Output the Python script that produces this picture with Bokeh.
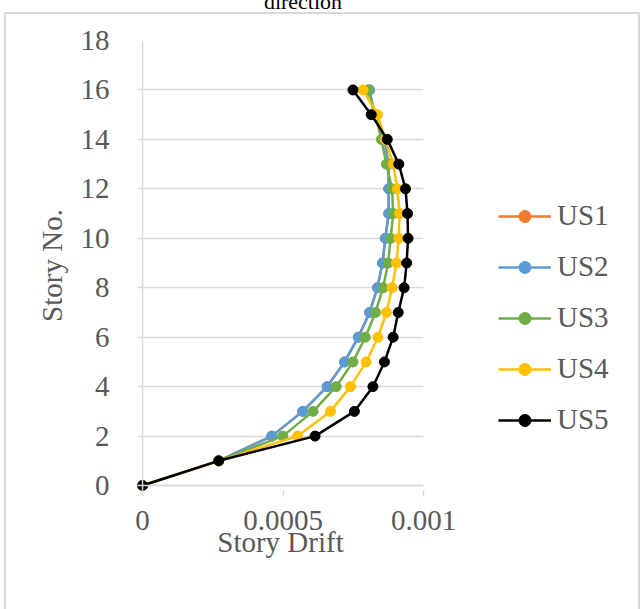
from bokeh.plotting import figure
from bokeh.layouts import column, row
from bokeh.models import (Legend, LegendItem, Div, FixedTicker, Range1d, Span)
from bokeh.embed import file_html
from bokeh.resources import INLINE

# Story levels and inter-story drift for the five cases
stories = list(range(17))
us1 = [0, 0.000271, 0.000460, 0.000570, 0.000657, 0.000719, 0.000768, 0.000808, 0.000836,
       0.000854, 0.000864, 0.000876, 0.000876, 0.000875, 0.000861, 0.000825, 0.000808]
us2 = [0, 0.000271, 0.000460, 0.000570, 0.000657, 0.000719, 0.000768, 0.000808, 0.000836,
       0.000854, 0.000864, 0.000876, 0.000876, 0.000875, 0.000861, 0.000825, 0.000808]
us3 = [0, 0.000271, 0.000499, 0.000607, 0.000689, 0.000749, 0.000793, 0.000829, 0.000856,
       0.000874, 0.000883, 0.000892, 0.000888, 0.000868, 0.000850, 0.000829, 0.000802]
us4 = [0, 0.000271, 0.000552, 0.000669, 0.000740, 0.000796, 0.000838, 0.000868, 0.000888,
       0.000904, 0.000912, 0.000915, 0.000907, 0.000892, 0.000864, 0.000836, 0.000785]
us5 = [0, 0.000271, 0.000614, 0.000754, 0.000820, 0.000861, 0.000892, 0.000910, 0.000931,
       0.000940, 0.000945, 0.000943, 0.000936, 0.000912, 0.000871, 0.000814, 0.000749]

series_names = ["US1", "US2", "US3", "US4", "US5"]
series_values = [us1, us2, us3, us4, us5]
series_colors = ["#ED7D31", "#5B9BD5", "#70AD47", "#FFC000", "#000000"]

x_ticks = [0, 0.0005, 0.001]
x_tick_labels = ["0", "0.0005", "0.001"]
y_ticks = list(range(0, 19, 2))

FONT = "Liberation Serif"
TEXT_COLOR = "#595959"
GRID_COLOR = "#d9d9d9"

# ---- main plot -----------------------------------------------------------
# the ranges reach a little below zero so the markers at the origin are not cut
p = figure(width=459, height=595, output_backend="svg", toolbar_location=None,
           x_range=Range1d(-0.000018, 0.001), y_range=Range1d(-0.2, 18),
           min_border_left=131, min_border_right=42,
           min_border_top=26, min_border_bottom=119)
p.outline_line_color = None
p.background_fill_color = "white"
p.border_fill_color = "white"

p.xaxis.ticker = FixedTicker(ticks=x_ticks)
p.xaxis.major_label_overrides = dict(zip(x_ticks, x_tick_labels))
p.yaxis.ticker = FixedTicker(ticks=y_ticks)

for ax in (p.xaxis[0], p.yaxis[0]):
    ax.axis_line_color = None
    ax.major_label_text_font = FONT
    ax.major_label_text_font_size = "29px"
    ax.major_label_text_color = TEXT_COLOR
    ax.axis_label_text_font = FONT
    ax.axis_label_text_font_size = "29px"
    ax.axis_label_text_font_style = "normal"
    ax.axis_label_text_color = TEXT_COLOR
    ax.minor_tick_line_color = None

p.xaxis.axis_label = "Story Drift"
p.xaxis.major_tick_line_color = GRID_COLOR
p.xaxis.major_tick_line_width = 1.5
p.xaxis.major_tick_in = 0
p.xaxis.major_tick_out = 6
p.xaxis.major_label_standoff = 14
p.xaxis.axis_label_standoff = -7

p.yaxis.axis_label = "Story No."
p.yaxis.major_tick_line_color = None
p.yaxis.major_label_standoff = 22
p.yaxis.axis_label_standoff = 10

p.xgrid.grid_line_color = None
p.ygrid.grid_line_color = GRID_COLOR
p.ygrid.grid_line_width = 1.5

# axis lines through the origin
p.add_layout(Span(location=0, dimension="height", line_color=GRID_COLOR, line_width=1.5))
p.add_layout(Span(location=0, dimension="width", line_color=GRID_COLOR, line_width=1.5))

for vals, color in zip(series_values, series_colors):
    p.line(vals, stories, line_color=color, line_width=2.5)
    p.scatter(vals, stories, marker="circle", size=10, fill_color=color, line_color=color)

# ---- legend panel ----------------------------------------------------------
# same series again, kept out of view; they only provide the legend swatches
lg = figure(width=173, height=595, output_backend="svg", toolbar_location=None,
            x_range=Range1d(2, 3), y_range=Range1d(0, 1),
            min_border=0, min_border_left=0, min_border_right=0,
            min_border_top=0, min_border_bottom=0)
lg.axis.visible = False
lg.grid.visible = False
lg.outline_line_color = None
lg.background_fill_color = "white"
lg.border_fill_color = "white"

items = []
for name, vals, color in zip(series_names, series_values, series_colors):
    r_line = lg.line(vals, stories, line_color=color, line_width=2.5)
    r_pts = lg.scatter(vals, stories, marker="circle", size=8,
                       fill_color=color, line_color=color)
    items.append(LegendItem(label=name, renderers=[r_line, r_pts]))

legend = Legend(items=items, location=(33, 54), orientation="vertical",
                padding=0, margin=0, spacing=18, glyph_width=53, glyph_height=30,
                label_height=30, label_standoff=6,
                label_text_font=FONT, label_text_font_size="29px",
                label_text_color=TEXT_COLOR,
                border_line_color=None, background_fill_alpha=0)
lg.add_layout(legend, "center")

# ---- chart box and title ---------------------------------------------------
chart = row(p, lg, spacing=0, margin=(0, 0, 0, 4),
            styles={"border-top": "2px solid #d9d9d9",
                    "border-left": "2px solid #d9d9d9",
                    "border-right": "2px solid #d9d9d9"})

title = Div(text='<div style="width:606px; text-align:center; font-family:\'Liberation Serif\';'
                 ' font-size:22px; line-height:12px; color:#000000; position:relative;'
                 ' top:-4px; white-space:nowrap;">direction</div>',
            width=606, height=12, margin=0)

layout = column(title, chart, spacing=0)

open("out.html", "w").write(file_html(layout, INLINE))
